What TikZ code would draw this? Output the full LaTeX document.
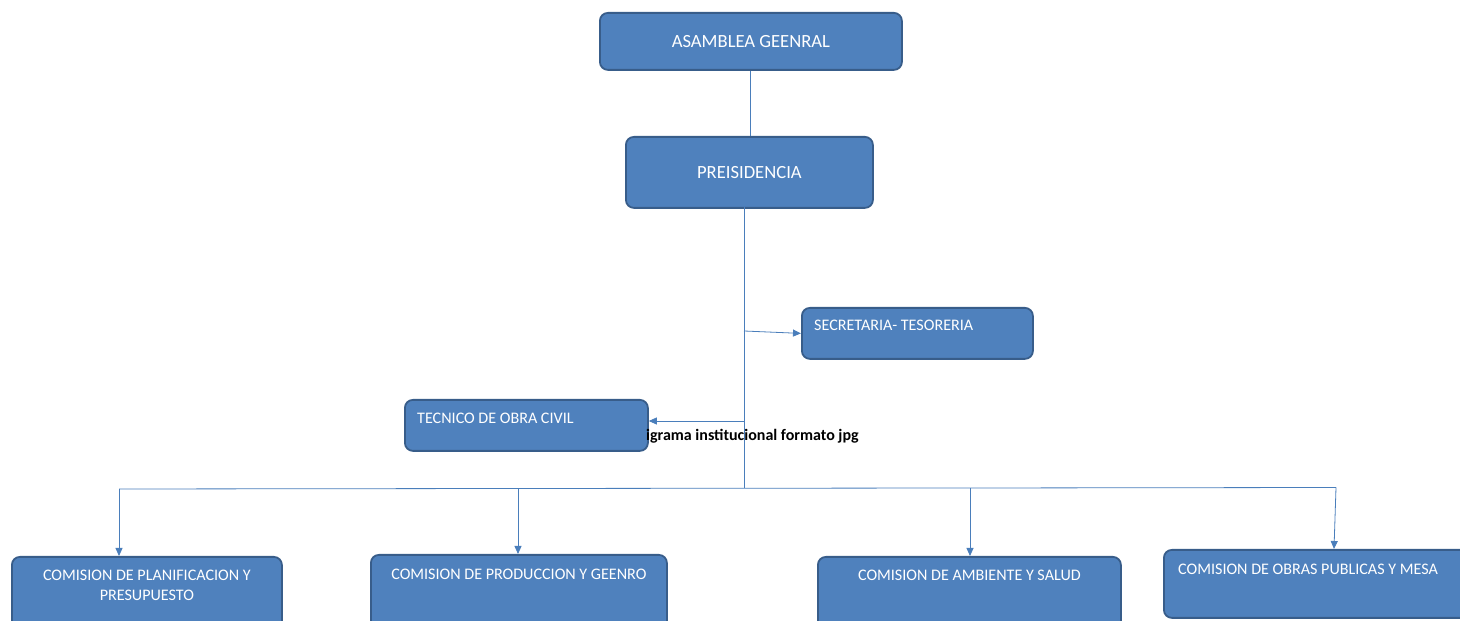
\documentclass[tikz,border=0pt]{standalone}
\usepackage{fontspec}
\setmainfont{Carlito}
\usetikzlibrary{arrows.meta}
\definecolor{boxfill}{HTML}{4F81BD}
\definecolor{boxborder}{HTML}{385D8A}
\definecolor{linkcol}{HTML}{4A7EBB}
\begin{document}
\begin{tikzpicture}[x=1pt,y=1pt,
  box/.style={draw=boxborder, fill=boxfill, rounded corners=8pt, line width=1.8pt, inner sep=0pt, anchor=north west},
  bigtxt/.style={text=white, font=\fontsize{18.6}{22}\selectfont},
  txt/.style={text=white, font=\fontsize{16.1}{20}\selectfont, inner sep=0pt},
  link/.style={draw=linkcol, line width=0.8pt},
  arr/.style={link, -{Triangle[length=8pt,width=7pt]}}]
\useasboundingbox (0,0) rectangle (1460,621);
\clip (0,0) rectangle (1460,621);
% top boxes
\node[box, minimum width=302pt, minimum height=57pt, bigtxt] (asm) at (599,609) {ASAMBLEA GEENRAL};
\node[box, minimum width=247pt, minimum height=71pt, bigtxt] (pres) at (625,485) {PREISIDENCIA};
% middle boxes
\node[box, minimum width=231pt, minimum height=51pt] (sec) at (801,314) {};
\node[txt, anchor=base west] (secT) at ([xshift=13pt,yshift=-24pt]sec.north west) {SECRETARIA- TESORERIA};
\node[box, minimum width=243pt, minimum height=51pt] (tec) at (404,222) {};
\node[txt, anchor=base west] (tecT) at ([xshift=13pt,yshift=-25pt]tec.north west) {TECNICO DE OBRA CIVIL};
\node[anchor=base west, inner sep=0pt, font=\bfseries\fontsize{16}{19}\selectfont] (cap) at (646,180) {igrama institucional formato jpg};
% bottom boxes
\node[box, minimum width=270pt, minimum height=80pt] (b1) at (11,65) {};
\node[txt, align=center, anchor=base] (b1T) at ([yshift=-45pt]b1.north) {COMISION DE PLANIFICACION Y\\PRESUPUESTO};
\node[box, minimum width=296pt, minimum height=80pt] (b2) at (370,67) {};
\node[txt, anchor=base] (b2T) at ([yshift=-26pt]b2.north) {COMISION DE PRODUCCION Y GEENRO};
\node[box, minimum width=303pt, minimum height=80pt] (b3) at (817,65) {};
\node[txt, anchor=base] (b3T) at ([yshift=-25pt]b3.north) {COMISION DE AMBIENTE Y SALUD};
\node[box, minimum width=310pt, minimum height=68pt] (b4) at (1163,72) {};
\node[txt, anchor=base west] (b4T) at ([xshift=15pt,yshift=-26pt]b4.north west) {COMISION DE OBRAS PUBLICAS Y MESA};
% connectors
\coordinate (tTop) at (744,414);
\coordinate (tBot) at (744,133);
\coordinate (sj) at (744,290);
\coordinate (tj) at (744,200);
\coordinate (d1) at (119,132);
\coordinate (d2) at (518,132.5);
\coordinate (d3) at (970,133);
\coordinate (d4) at (1336,133.5);
\draw[link] (asm.south -| 750,0) -- (pres.north -| 750,0);
\draw[link] (tTop) -- (tBot);
\draw[arr] (sj) -- (sec.west);
\draw[arr] (tj) -- (tj -| tec.east);
\draw[link] (d1) -- (d2) -- (d3) -- (d4);
\draw[arr] (d1) -- (d1 |- b1.north);
\draw[arr] (d2) -- (d2 |- b2.north);
\draw[arr] (d3) -- (d3 |- b3.north);
\draw[arr] (d4) -- ([xshift=-2pt]d4 |- b4.north);
\end{tikzpicture}
\end{document}
